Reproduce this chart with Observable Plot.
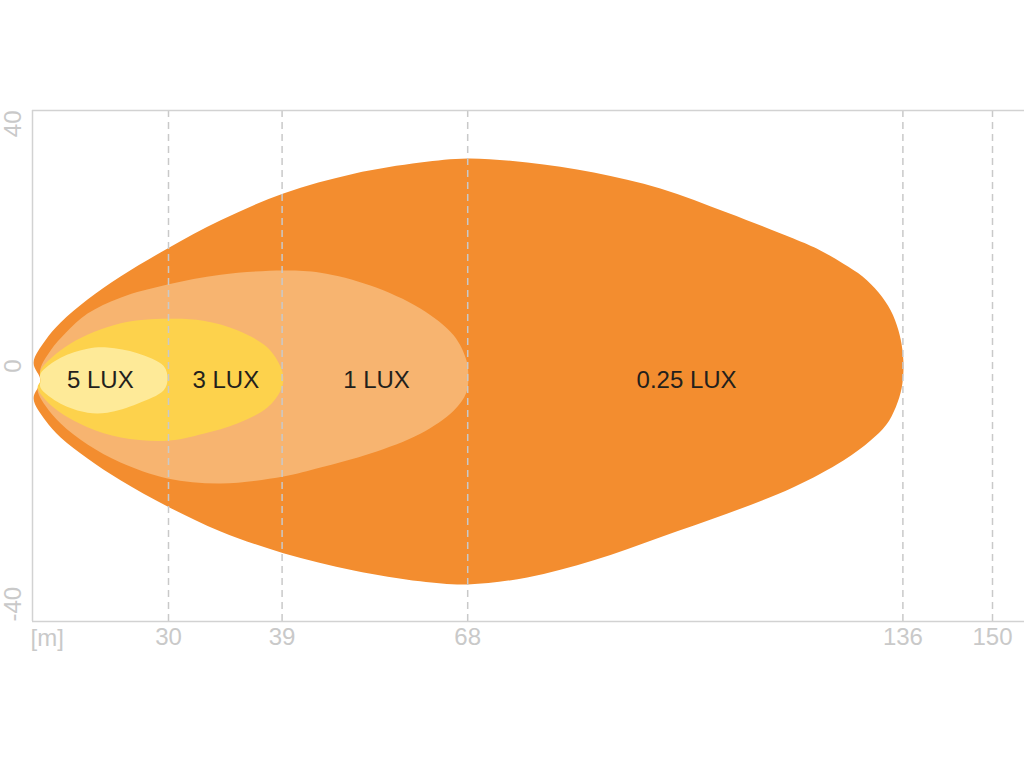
<!DOCTYPE html>
<html>
<head>
<meta charset="utf-8">
<script src="https://cdn.jsdelivr.net/npm/d3@7"></script>
<script src="https://cdn.jsdelivr.net/npm/@observablehq/plot@0.6"></script>
<style>
  html, body { margin: 0; padding: 0; background: #fff; }
  #chart { width: 1024px; height: 768px; }
  svg { font-family: "Liberation Sans", Arial, Helvetica, sans-serif; }
</style>
</head>
<body>
<div id="chart"></div>
<script>
// Isolux contours (distance [m], lateral offset [m]), closed outlines
const lux025 = [[1.25,-2.3],[0.16,0.55],[2.0,4.0],[4.4,6.8],[8.6,10.4],[13.75,14.0],[21.1,18.4],[29.4,22.8],[39.2,27.0],[50.2,30.1],[60.6,31.85],[68,32.5],[77.3,31.85],[87.7,30.3],[98.1,27.8],[108.6,24.0],[118.9,19.95],[123.1,18.1],[126.7,16.0],[129.7,14.0],[132.2,11.5],[134.1,8.7],[135.3,5.6],[135.9,2.7],[136.1,-0.25],[135.8,-3.5],[134.9,-6.4],[133.4,-9.2],[130.9,-11.7],[126.7,-14.8],[118.9,-19.0],[108.6,-23.1],[98.1,-26.8],[87.7,-30.4],[77.3,-33.1],[68,-34.2],[60.6,-33.7],[50.2,-32.0],[39.2,-29.3],[29.4,-25.9],[21.1,-22.0],[13.75,-17.9],[8.6,-14.5],[4.4,-11.2],[2.0,-8.5],[0.16,-5.1]];
const lux1 = [[1.25,-2.3],[1.25,-0.4],[2.8,2.4],[5.2,5.2],[8.6,8.2],[13.75,10.7],[21.1,12.75],[29.4,14.3],[39.2,14.95],[45,14.6],[52.8,12.6],[60.6,9.0],[65.8,4.8],[67.8,0.9],[68.1,-1.6],[67.8,-4.15],[65.8,-7.0],[60.6,-10.6],[52.8,-13.7],[45,-15.9],[39.2,-17.3],[29.4,-18.4],[21.1,-17.6],[13.75,-15.1],[8.6,-12.3],[4.4,-9.0],[2.0,-6.2],[0.8,-3.8]];
const lux3 = [[1.25,-2.3],[1.25,-0.7],[5.9,3.5],[13.8,6.7],[21.1,7.4],[26.7,7.1],[32.0,5.6],[36.7,2.9],[38.8,-0.2],[39.2,-2.0],[38.8,-3.8],[36.7,-6.5],[32.0,-9.0],[26.7,-10.6],[21.1,-11.7],[13.8,-11.2],[8.6,-9.6],[3.3,-6.5],[0.8,-3.4]];
const lux5 = [[1.25,-2.3],[1.25,-1.2],[4.4,1.3],[8.6,2.7],[11.7,2.9],[16.4,2.0],[20.5,0.0],[21.1,-2.0],[20.5,-3.8],[16.4,-5.9],[11.7,-7.3],[8.6,-7.3],[4.4,-5.9],[1.25,-3.4]];

const zoneLabels = ["5 LUX", "3 LUX", "1 LUX", "0.25 LUX"];
const zoneLabelX = [10.6, 30.2, 53.75, 102.2];
const zoneLabelY = [-2.3, -2.3, -2.3, -2.3];

const gridX = [21.25, 39, 68, 136, 150];
const gridLabels = ["30", "39", "68", "136", "150"];
const yTicks = [40, 0, -40];
const yTickLabels = ["40", "0", "-40"];
const unitLabel = "[m]";

const tickColor = "#c9c9c9";
const frameColor = "#d2d2d2";
const shape = (pts, color) => Plot.line(pts, {x: d => d[0], y: d => d[1], fill: color, stroke: "none", curve: "catmull-rom-closed"});

const chart = Plot.plot({
  width: 1024,
  height: 768,
  marginLeft: 32,
  marginRight: 0,
  marginTop: 110,
  marginBottom: 147,
  x: {domain: [0, 155], axis: null},
  y: {domain: [-40, 40], axis: null},
  marks: [
    shape(lux025, "#f38d2f"),
    shape(lux1, "#f7b470"),
    shape(lux3, "#fdd24c"),
    shape(lux5, "#feea98"),
    Plot.ruleX(gridX, {y1: -40, y2: 40, stroke: tickColor, strokeWidth: 1.5, strokeDasharray: "7,5"}),
    Plot.ruleX([0], {stroke: frameColor, strokeWidth: 1.5}),
    Plot.ruleY([-40, 40], {stroke: frameColor, strokeWidth: 1.5}),
    Plot.text(zoneLabels, {x: (d, i) => zoneLabelX[i], y: (d, i) => zoneLabelY[i], text: d => d, fill: "#231f1c", fontSize: 24}),
    Plot.text(gridLabels, {x: (d, i) => gridX[i], y: -40, text: d => d, fill: tickColor, fontSize: 24, lineAnchor: "top", dy: 6}),
    Plot.text([unitLabel], {x: 0, y: -40, text: d => d, fill: tickColor, fontSize: 24, lineAnchor: "top", textAnchor: "start", dy: 7, dx: -2}),
    Plot.text([yTickLabels[0]], {x: 0, y: yTicks[0], text: d => d, fill: tickColor, fontSize: 24, rotate: -90, textAnchor: "end", dx: -19}),
    Plot.text([yTickLabels[1]], {x: 0, y: yTicks[1], text: d => d, fill: tickColor, fontSize: 24, rotate: -90, textAnchor: "middle", dx: -19}),
    Plot.text([yTickLabels[2]], {x: 0, y: yTicks[2], text: d => d, fill: tickColor, fontSize: 24, rotate: -90, textAnchor: "start", dx: -19})
  ]
});
document.getElementById("chart").appendChild(chart);
</script>
</body>
</html>
